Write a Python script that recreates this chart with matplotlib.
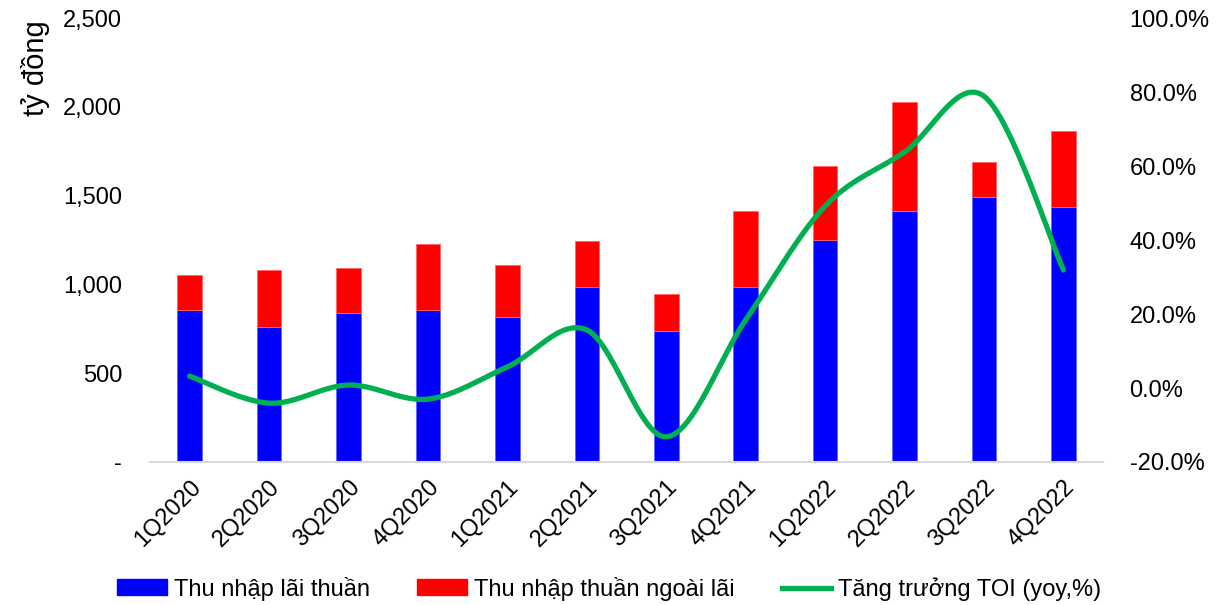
import numpy as np
import matplotlib
matplotlib.use("Agg")
import matplotlib.pyplot as plt
from matplotlib.ticker import FuncFormatter, MultipleLocator
from matplotlib.patches import Patch
from matplotlib.lines import Line2D

plt.rcParams['font.family'] = ['Liberation Sans', 'DejaVu Sans']

quarters = ["1Q2020", "2Q2020", "3Q2020", "4Q2020", "1Q2021", "2Q2021",
            "3Q2021", "4Q2021", "1Q2022", "2Q2022", "3Q2022", "4Q2022"]
thu_nhap_lai = [856, 760, 839, 856, 816, 985, 738, 985, 1250, 1413, 1492, 1436]
thu_nhap_ngoai_lai = [197, 321, 253, 371, 293, 259, 208, 428, 417, 614, 197, 428]
tang_truong_toi = [3.2, -4.1, 0.8, -3.0, 5.7, 15.7, -13.2, 18.4, 49.2, 63.8, 78.9, 31.9]

BLUE = "#0000FF"
RED = "#FF0000"
GREEN = "#00B050"
FS = 17


def smooth_curve(x, y, steps=30):
    # Catmull-Rom style bezier smoothing between points
    x = np.asarray(x, float)
    y = np.asarray(y, float)
    pts = np.column_stack([x, y])
    ext = np.vstack([pts[0], pts, pts[-1]])
    out = []
    t = np.linspace(0, 1, steps)[:, None]
    for i in range(len(pts) - 1):
        p0, p3 = ext[i + 1], ext[i + 2]
        c1 = p0 + (ext[i + 2] - ext[i]) / 6.0
        c2 = p3 - (ext[i + 3] - ext[i + 1]) / 6.0
        seg = ((1 - t) ** 3) * p0 + 3 * ((1 - t) ** 2) * t * c1 + 3 * (1 - t) * t ** 2 * c2 + t ** 3 * p3
        out.append(seg if i == 0 else seg[1:])
    out = np.vstack(out)
    return out[:, 0], out[:, 1]


fig = plt.figure(figsize=(12.19, 6.05), dpi=100)
ax = fig.add_axes([0.123, 0.2364, 0.782, 0.7336])
x = np.arange(len(quarters))
w = 0.31

ax.bar(x, thu_nhap_lai, width=w, color=BLUE, edgecolor="#6666FF", linewidth=0.6)
ax.bar(x, thu_nhap_ngoai_lai, width=w, bottom=thu_nhap_lai, color=RED,
       edgecolor="#FF6666", linewidth=0.6)

ax.set_xlim(-0.5, len(quarters) - 0.5)
ax.set_ylim(0, 2500)
ax.yaxis.set_major_locator(MultipleLocator(500))
ax.yaxis.set_major_formatter(FuncFormatter(lambda v, p: "-" if v == 0 else f"{v:,.0f}"))
ax.set_xticks(x)
ax.set_xticklabels(quarters, rotation=45, ha="right", rotation_mode="anchor")

for s in ["top", "right", "left"]:
    ax.spines[s].set_visible(False)
ax.spines["bottom"].set_color("#D9D9D9")
ax.spines["bottom"].set_linewidth(1.5)
ax.tick_params(axis="both", length=0, labelsize=FS)
ax.tick_params(axis="y", pad=20)
ax.tick_params(axis="x", pad=10)
ax.text(-0.12, 0.995, "tỷ đồng", transform=ax.transAxes, rotation=90,
        fontsize=21, ha="center", va="top")

ax2 = ax.twinx()
ax2.set_ylim(-20, 100)
ax2.yaxis.set_major_locator(MultipleLocator(20))
ax2.yaxis.set_major_formatter(FuncFormatter(lambda v, p: f"{v:.1f}%"))
for s in ["top", "right", "left", "bottom"]:
    ax2.spines[s].set_visible(False)
ax2.tick_params(axis="y", length=0, labelsize=FS, pad=19)

sx, sy = smooth_curve(x, tang_truong_toi)
ax2.plot(sx, sy, color=GREEN, linewidth=3.8, solid_capstyle="round")

handles = [Patch(color=BLUE), Patch(color=RED),
           Line2D([0], [0], color=GREEN, linewidth=3.8)]
labels = ["Thu nhập lãi thuần", "Thu nhập thuần ngoài lãi", "Tăng trưởng TOI (yoy,%)"]
fig.legend(handles, labels, loc="center", bbox_to_anchor=(0.5, 0.027), ncol=3,
           frameon=False, fontsize=FS, handlelength=2.1, handleheight=0.65,
           columnspacing=2.0, handletextpad=0.3, borderpad=0)

fig.savefig("out.png", dpi=100)
